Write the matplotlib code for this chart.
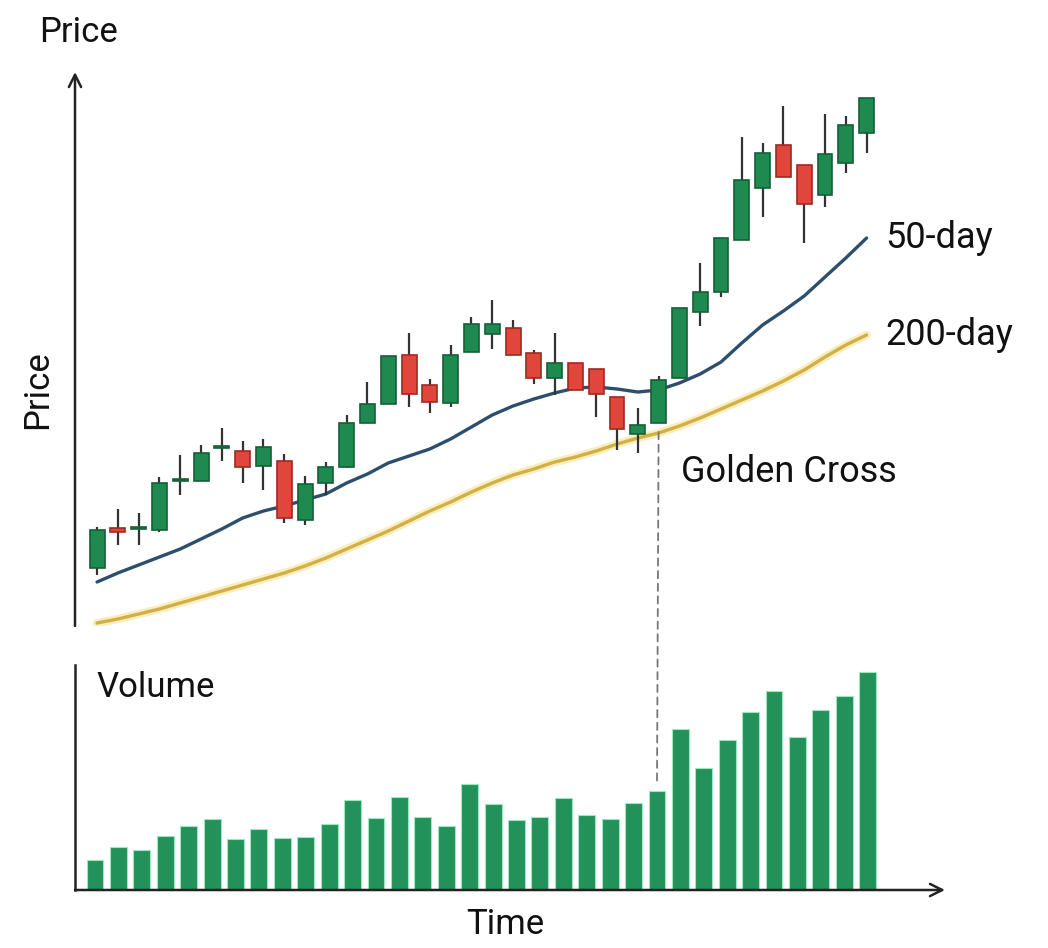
import numpy as np
import matplotlib
matplotlib.use("Agg")
import matplotlib.pyplot as plt
from matplotlib.patches import ConnectionPatch

plt.rcParams['font.family'] = ['Roboto', 'DejaVu Sans']

# --- candle data (open, close, high, low) ---
opens = [26.4, 34.4, 34.2, 34.0, 43.8, 43.8, 50.4, 49.8, 46.8, 47.8,
         36.0, 43.4, 46.6, 55.4, 59.2, 69.0, 63.0, 59.4, 69.6, 73.2,
         74.4, 69.4, 64.4, 67.4, 66.2, 60.6, 53.2, 55.4, 64.4, 77.6,
         81.6, 92.0, 102.4, 111.0, 107.0, 101.0, 107.4, 113.4]
closes = [34.0, 33.6, 34.6, 43.4, 44.2, 49.4, 50.8, 46.6, 50.6, 36.4,
          43.2, 46.6, 55.4, 59.2, 68.8, 61.2, 59.6, 69.0, 75.2, 75.2,
          69.0, 64.4, 67.4, 62.0, 61.2, 54.2, 55.0, 64.0, 78.4, 81.6,
          92.4, 104.0, 109.4, 104.6, 99.2, 109.2, 115.0, 120.4]
highs = [34.6, 38.2, 37.4, 44.6, 49.0, 51.0, 54.4, 51.8, 52.2, 49.2,
         44.8, 47.6, 57.0, 63.6, 68.8, 73.4, 64.2, 71.0, 76.6, 80.0,
         76.0, 70.0, 73.4, 67.4, 66.2, 60.6, 58.4, 64.8, 78.4, 87.4,
         92.4, 112.6, 111.4, 118.8, 107.0, 117.2, 116.8, 120.4]
lows = [25.0, 31.0, 31.0, 33.6, 41.0, 43.8, 47.8, 43.4, 42.0, 35.4,
        35.0, 41.0, 46.4, 55.4, 59.2, 58.6, 57.4, 58.6, 69.6, 70.2,
        69.0, 63.2, 61.0, 62.0, 56.6, 50.0, 49.4, 55.4, 64.4, 74.8,
        80.6, 92.0, 96.6, 104.6, 91.4, 98.6, 105.4, 109.4]

ma50 = [23.6, 25.4, 27.0, 28.6, 30.2, 32.2, 34.2, 36.4, 37.8, 38.8,
        40.0, 41.2, 43.4, 45.2, 47.4, 48.8, 50.2, 52.2, 54.6, 57.0,
        58.8, 60.2, 61.4, 62.4, 62.6, 62.2, 61.6, 62.0, 63.4, 65.2,
        67.6, 71.4, 75.0, 77.8, 80.8, 84.6, 88.4, 92.4]
ma200 = [15.4, 16.2, 17.2, 18.2, 19.4, 20.6, 21.8, 23.0, 24.2, 25.4,
         26.8, 28.4, 30.2, 32.0, 33.8, 35.8, 37.8, 39.6, 41.6, 43.4,
         45.0, 46.2, 47.6, 48.6, 49.8, 51.2, 52.4, 53.4, 54.8, 56.4,
         58.2, 60.0, 61.8, 63.8, 66.0, 68.6, 71.0, 73.0]

volume = [30, 43, 40, 54, 64, 71, 51, 61, 52, 53, 66, 90, 72, 93, 73, 64,
          106, 86, 70, 73, 92, 75, 71, 87, 99, 161, 122, 150, 178, 199,
          153, 180, 194, 218]

cross_candle = 27   # candle index where the golden cross happens
cross_bar = 24      # matching volume bar

GREEN = '#1f8a4f'
GREEN_EDGE = '#145f36'
RED = '#e0463a'
RED_EDGE = '#9e2a22'
BLUE = '#2d4f6e'
GOLD = '#d2b046'

W, H = 1048, 948
fig = plt.figure(figsize=(W / 100, H / 100), dpi=100)


def px_axes(x0, y0, x1, y1):
    # axes placed by pixel box (top-left origin)
    return fig.add_axes([x0 / W, 1 - y1 / H, (x1 - x0) / W, (y1 - y0) / H])


# --- price panel ---
ax = px_axes(75, 72, 945, 626)
n = len(opens)
x = np.arange(n)
ax.set_xlim(-1.06, 40.77)
ax.set_ylim((700 - 626) / 5, (700 - 72) / 5)
ax.axis('off')

ax.plot(x, ma200, color='#f6e7a4', lw=6, alpha=0.7, solid_capstyle='round')
ax.plot(x, ma200, color=GOLD, lw=2.4, solid_capstyle='round')
ax.plot(x, ma50, color=BLUE, lw=2.4, solid_capstyle='round')

for i in range(n):
    up = closes[i] >= opens[i]
    fc = GREEN if up else RED
    ec = GREEN_EDGE if up else RED_EDGE
    ax.vlines(i, lows[i], highs[i], color='#333333', lw=1.6, zorder=3)
    lo = min(opens[i], closes[i])
    h = max(abs(closes[i] - opens[i]), 0.35)
    ax.bar(i, h, bottom=lo, width=0.72, color=fc, edgecolor=ec, lw=1.2, zorder=4)

ax.text(37.9, ma50[-1], '50-day', fontsize=26, va='center', ha='left', color='#111111')
ax.text(37.9, ma200[-1], '200-day', fontsize=26, va='center', ha='left', color='#111111')
ax.text(28.1, 45.6, 'Golden Cross', fontsize=26, va='center', ha='left', color='#111111')

# price axis with arrow
ax.annotate('', xy=(0, 1.0), xytext=(0, 0), xycoords='axes fraction',
            arrowprops=dict(arrowstyle='->', color='#222222', lw=1.8,
                            mutation_scale=22, shrinkA=0, shrinkB=0))

# --- volume panel ---
vx = px_axes(75, 665, 945, 890)
m = len(volume)
vx.set_xlim(-0.855, 36.3)
vx.set_ylim(0, 225)
vx.axis('off')
vx.bar(np.arange(m), volume, width=0.72, color='#23915a', edgecolor='#9be8c0', lw=0.8)
vx.plot([0, 0], [0, 1], transform=vx.transAxes, color='#222222', lw=1.8, clip_on=False)
vx.annotate('', xy=(1.0, 0), xytext=(0, 0), xycoords='axes fraction',
            arrowprops=dict(arrowstyle='->', color='#222222', lw=1.8,
                            mutation_scale=22, shrinkA=0, shrinkB=0))
vx.text(0.025, 0.9, 'Volume', transform=vx.transAxes, fontsize=25,
        va='center', ha='left', color='#111111')

# golden cross marker line
con = ConnectionPatch(xyA=(cross_candle, 53.6), coordsA=ax.transData,
                      xyB=(cross_bar, volume[cross_bar] + 6), coordsB=vx.transData,
                      color='#777777', lw=1.3, linestyle=(0, (4, 3)))
fig.add_artist(con)

# axis labels
fig.text(78 / W, 1 - 32 / H, 'Price', fontsize=25, ha='center', va='center', color='#111111')
fig.text(38 / W, 1 - 390 / H, 'Price', fontsize=25, ha='center', va='center',
         rotation=90, color='#111111')
fig.text(505 / W, 1 - 925 / H, 'Time', fontsize=25, ha='center', va='center', color='#111111')

fig.savefig('out.png', dpi=100, facecolor='white')
